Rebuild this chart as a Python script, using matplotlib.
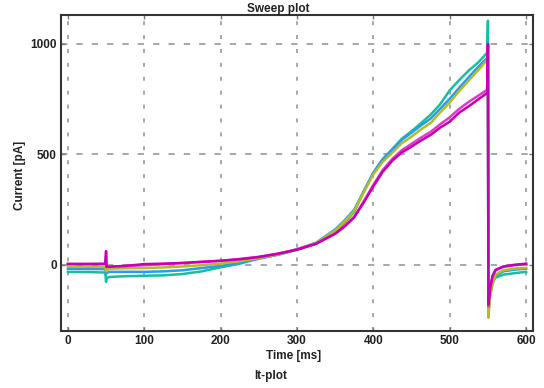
import matplotlib
matplotlib.use("Agg")
import matplotlib.pyplot as plt

# ---- data ----
time_ms = [0, 25, 49, 50, 50.6, 55, 75, 100, 125, 150, 175, 200, 225, 250, 275,
           300, 325, 350, 362, 375, 387, 400, 412, 425, 437, 450, 462, 475, 487,
           500, 512, 525, 537, 549, 550, 550.6,
           553, 556, 560, 570, 585, 600]

teal = [-32, -33, -35, -78, -60, -55, -52, -50, -48, -42, -30, -12, 5, 28, 45,
        68, 95, 150, 190, 240, 330, 415, 475, 525, 570, 605, 640, 680, 725,
        790, 835, 880, 915, 960, 1105, -200,
        -120, -80, -58, -45, -38, -32]
blue = [-18, -19, -20, -42, -36, -32, -32, -32, -30, -25, -15, -5, 8, 28, 46,
        70, 100, 160, 200, 250, 330, 418, 478, 522, 565, 598, 630, 662, 705,
        752, 800, 850, 895, 937, 1000, -220,
        -130, -85, -50, -30, -22, -18]
olive = [-9, -9, -10, -30, -24, -18, -16, -15, -12, -8, -2, 5, 16, 30, 47,
         70, 98, 155, 195, 245, 325, 410, 465, 508, 550, 580, 612, 642, 688,
         735, 785, 835, 880, 928, 950, -240,
         -140, -90, -45, -25, -17, -14]
pink = [4, 4, 5, 40, -8, -8, -6, -2, 3, 8, 13, 18, 26, 36, 50,
        70, 96, 142, 175, 218, 285, 362, 428, 480, 518, 548, 575, 602, 635,
        668, 705, 738, 765, 792, 990, -190,
        -110, -55, -25, -10, -2, 3]
magenta = [3, 3, 3, 62, -10, -9, -5, 3, 5, 8, 13, 18, 25, 35, 50,
           68, 95, 140, 172, 215, 280, 355, 420, 472, 508, 535, 562, 588, 620,
           648, 688, 718, 748, 778, 1000, -180,
           -100, -50, -23, -8, 0, 5]

series = [("teal", teal, "#17bf9f"),
          ("blue", blue, "#2a9bef"),
          ("olive", olive, "#b3bd22"),
          ("pink", pink, "#de3ccc"),
          ("magenta", magenta, "#c800b4")]

x_ticks = [0, 100, 200, 300, 400, 500, 600]
y_ticks = [0, 500, 1000]

# ---- figure ----
plt.rcParams['font.family'] = ['Liberation Sans', 'DejaVu Sans']
W, H = 544, 388
fig = plt.figure(figsize=(W / 100, H / 100), dpi=100)
ax = fig.add_axes([61 / W, 1 - 331 / H, 472 / W, 316 / H])

for name, vals, col in series:
    ax.plot(time_ms, vals, color=col, lw=1.8, solid_joinstyle='round')

ax.set_xlim(-9, 609)
ax.set_ylim(-300, 1131)
ax.set_xticks(x_ticks)
ax.set_yticks(y_ticks)

ax.xaxis.grid(True, color="#a0a0a0", linestyle=(0, (2.2, 5.5)), linewidth=1.3)
ax.yaxis.grid(True, color="#a0a0a0", linestyle=(0, (3.5, 5.0)), linewidth=1.3)
ax.set_axisbelow(True)

for s in ax.spines.values():
    s.set_color("#333333")
    s.set_linewidth(1.5)

ax.tick_params(direction='in', length=3, width=1, colors="#777777",
               labelcolor="#222222", labelsize=8.5, pad=3,
               top=True, right=True)
for lab in ax.get_xticklabels() + ax.get_yticklabels():
    lab.set_fontweight('bold')

fig.text(278 / W, 1 - 9 / H, "Sweep plot", ha='center', va='center',
         fontsize=8.5, fontweight='bold', color="#222222")
fig.text(294 / W, 1 - 356 / H, "Time [ms]", ha='center', va='center',
         fontsize=8.5, fontweight='bold', color="#222222")
fig.text(271 / W, 1 - 376 / H, "It-plot", ha='center', va='center',
         fontsize=8.5, fontweight='bold', color="#222222")
fig.text(20 / W, 1 - 175 / H, "Current [pA]", ha='center', va='center',
         rotation=90, fontsize=8.5, fontweight='bold', color="#222222")

fig.savefig("out.png", dpi=100, facecolor="white")
